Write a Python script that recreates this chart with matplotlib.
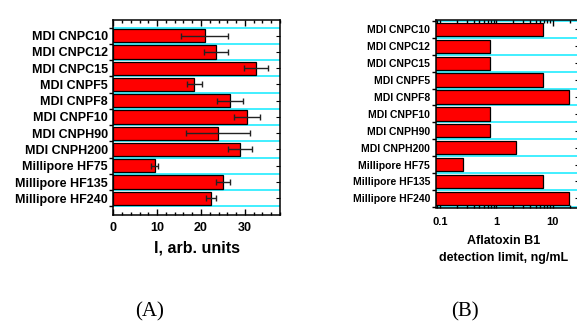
import numpy as np
import matplotlib
matplotlib.use('Agg')
import matplotlib.pyplot as plt
from matplotlib.ticker import MultipleLocator, FixedLocator, FixedFormatter, NullFormatter, LogLocator

plt.rcParams['font.family'] = ['Liberation Sans', 'DejaVu Sans']

membranes = ['MDI CNPC10', 'MDI CNPC12', 'MDI CNPC15', 'MDI CNPF5', 'MDI CNPF8',
             'MDI CNPF10', 'MDI CNPH90', 'MDI CNPH200', 'Millipore HF75',
             'Millipore HF135', 'Millipore HF240']
intensity = [20.8, 23.4, 32.5, 18.5, 26.6, 30.5, 23.8, 28.9, 9.4, 24.9, 22.2]
intensity_err = [5.3, 2.7, 2.7, 1.75, 3.0, 2.9, 7.3, 2.65, 0.85, 1.6, 1.15]
detection_limit = [6.6, 0.76, 0.76, 6.6, 19, 0.76, 0.76, 2.24, 0.26, 6.6, 19]

W, H = 577, 324
fig = plt.figure(figsize=(W / 100, H / 100), dpi=100)

bar_red = '#ff0000'
grid_cyan = '#33eeff'
pos = np.arange(len(membranes))
bounds = np.arange(len(membranes) + 1) - 0.5


def style_axes(ax, label_size):
    for s in ax.spines.values():
        s.set_linewidth(1.1)
    for b in bounds:
        ax.axhline(b, color=grid_cyan, lw=1.3, zorder=0)
    ax.set_yticks(bounds)
    ax.yaxis.set_major_formatter(NullFormatter())
    ax.tick_params(axis='y', which='major', direction='out', length=3, width=1, right=False)
    ax.set_yticks(pos, minor=True)
    ax.set_yticklabels(membranes, minor=True, fontsize=label_size, fontweight='bold')
    ax.tick_params(axis='y', which='minor', left=False, right=True, direction='in',
                   length=3, width=0.8, pad=4)


# (A) intensity
axA = fig.add_axes([113.3 / W, 1 - 215 / H, (280 - 113.3) / W, (215 - 19.7) / H])
axA.barh(pos, intensity, height=0.82, color=bar_red, edgecolor='black', lw=0.9, zorder=2)
axA.errorbar(intensity, pos, xerr=intensity_err, fmt='none', ecolor='#222222',
             elinewidth=1, capsize=2, capthick=1, zorder=3)
axA.set_xlim(0, 38)
axA.set_ylim(11.03, -0.985)
style_axes(axA, 9)
axA.xaxis.set_major_locator(MultipleLocator(10))
axA.xaxis.set_minor_locator(MultipleLocator(2))
axA.tick_params(axis='x', which='both', top=True, direction='in', width=1)
axA.tick_params(axis='x', which='major', length=4, labelsize=9, pad=5)
axA.tick_params(axis='x', which='minor', length=2)
for t in axA.get_xticklabels():
    t.set_fontweight('bold')
axA.set_xlabel('I, arb. units', fontsize=11.5, fontweight='bold', labelpad=5)

# (B) detection limit
axB = fig.add_axes([435.7 / W, 1 - 207.5 / H, (579 - 435.7) / W, (207.5 - 20) / H])
axB.barh(pos, detection_limit, height=0.79, color=bar_red, edgecolor='black', lw=0.9, zorder=2)
axB.set_xscale('log')
axB.set_xlim(0.084, 29)
axB.set_ylim(10.54, -0.56)
style_axes(axB, 7.5)
axB.xaxis.set_major_locator(FixedLocator([0.1, 1, 10]))
axB.xaxis.set_major_formatter(FixedFormatter(['0.1', '1', '10']))
axB.xaxis.set_minor_locator(LogLocator(base=10, subs=np.arange(2, 10)))
axB.xaxis.set_minor_formatter(NullFormatter())
axB.tick_params(axis='x', which='both', top=True, direction='in', width=1)
axB.tick_params(axis='x', which='major', length=4, labelsize=8, pad=7)
axB.tick_params(axis='x', which='minor', length=2)
for t in axB.get_xticklabels():
    t.set_fontweight('bold')
axB.set_xlabel('Aflatoxin B1\ndetection limit, ng/mL', fontsize=9, fontweight='bold',
               linespacing=1.5)
axB.xaxis.set_label_coords((504 - 435.7) / (579 - 435.7), -(235 - 207.5) / (207.5 - 20))
axB.xaxis.label.set_verticalalignment('top')

fig.text(150 / W, 1 - 312 / H, '(A)', ha='center', va='center',
         fontsize=15, family='Liberation Serif')
fig.text(465 / W, 1 - 312 / H, '(B)', ha='center', va='center',
         fontsize=15, family='Liberation Serif')

fig.savefig('out.png', dpi=100)
